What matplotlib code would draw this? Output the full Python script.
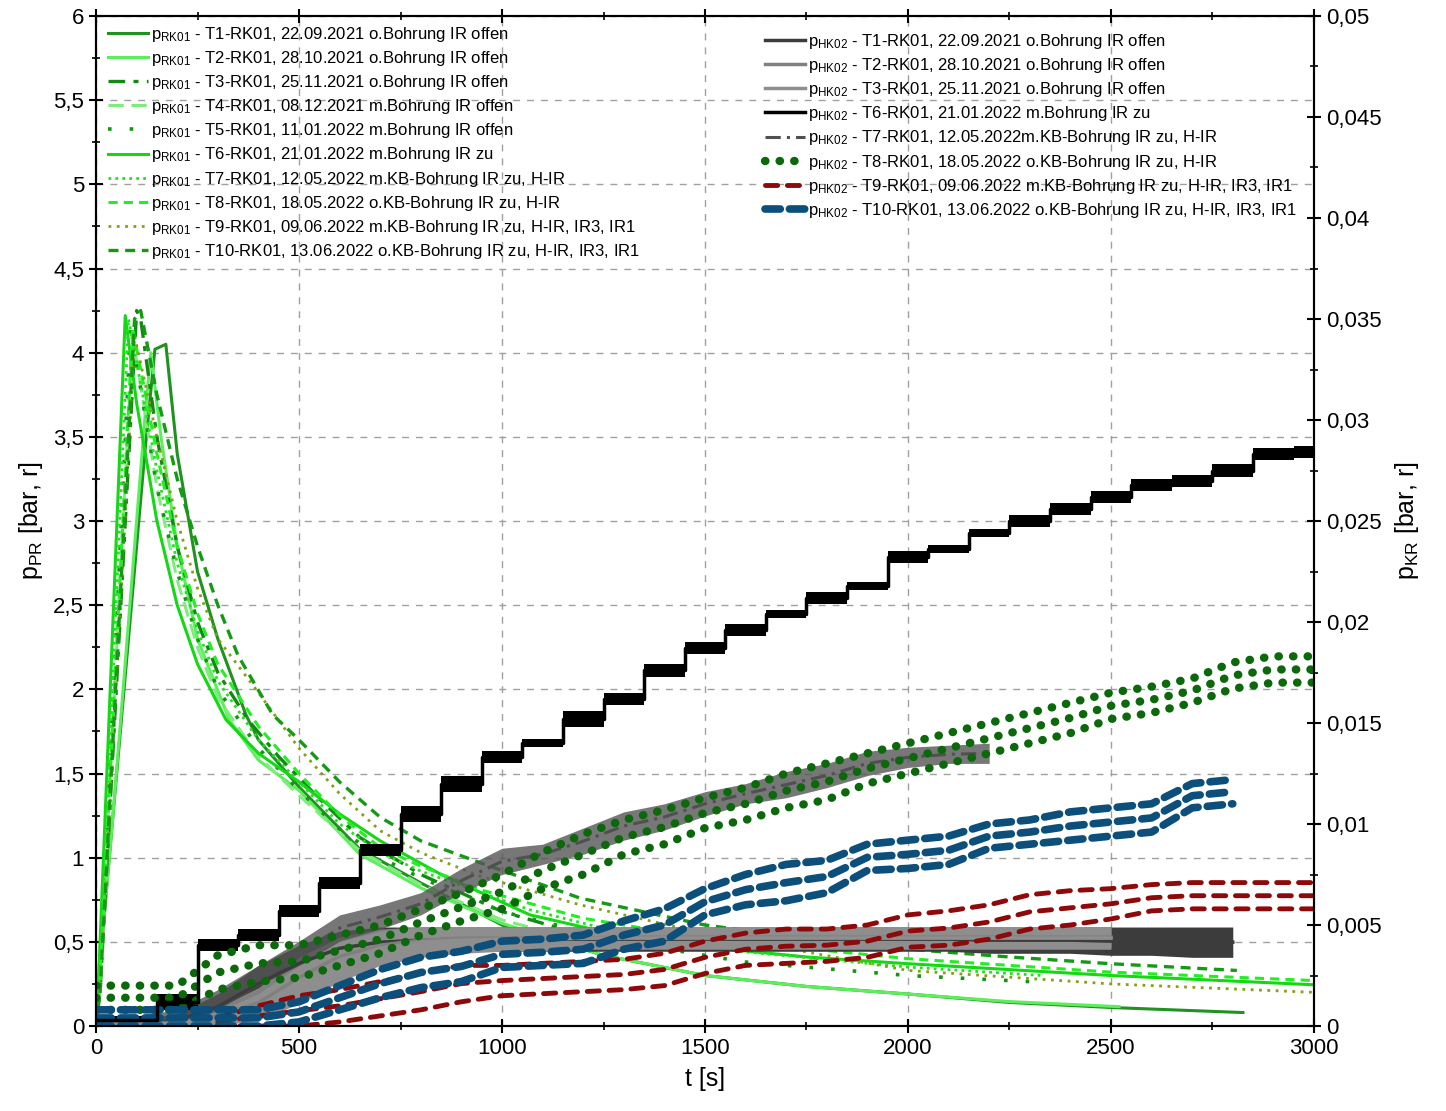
import numpy as np
import matplotlib.pyplot as plt
from matplotlib.ticker import MultipleLocator, FuncFormatter

plt.rcParams["font.family"] = ["Liberation Sans", "DejaVu Sans"]
plt.rcParams["mathtext.default"] = "regular"

nan = np.nan

# ==========================
# RK01 PRESSURE CURVES (left axis, bar)
# ==========================

t1_rk_t = [0, 40, 80, 120, 145, 172, 200, 250, 300, 369, 400, 500, 650, 800, 1000, 1250, 1500, 1750, 2000, 2250, 2500, 2825]
t1_rk_p = [0.1, 1.2, 2.3, 3.4, 4.02, 4.05, 3.4, 2.7, 2.3, 1.85, 1.7, 1.42, 1.05, 0.85, 0.6, 0.42, 0.3, 0.235, 0.19, 0.14, 0.11, 0.08]

t2_rk_t = [0, 40, 80, 120, 135, 160, 200, 250, 328, 400, 500, 650, 800, 1000, 1250, 1500, 1750, 2000, 2250, 2520]
t2_rk_p = [0.1, 1.2, 2.4, 3.6, 4.0, 3.5, 2.85, 2.3, 1.82, 1.58, 1.4, 1.02, 0.82, 0.61, 0.42, 0.3, 0.235, 0.19, 0.145, 0.115]

t3_rk_t = [0, 10, 100, 110, 150, 200, 250, 300, 374, 450, 550, 650, 800, 1000, 1300]
t3_rk_p = [0, 0.2, 4.25, 4.2, 3.5, 2.85, 2.4, 2.1, 1.82, 1.6, 1.35, 1.12, 0.9, 0.68, 0.47]

t4_rk_t = [0, 8, 90, 150, 200, 250, 300, 400, 500, 650, 800, 1000, 1300]
t4_rk_p = [0, 0.2, 4.1, 3.2, 2.65, 2.25, 1.95, 1.6, 1.37, 1.04, 0.84, 0.63, 0.44]

t5_rk_t = [0, 8, 85, 150, 200, 250, 300, 400, 500, 600, 700, 800, 1000, 1300, 1600, 2000, 2330]
t5_rk_p = [0, 0.2, 4.15, 3.2, 2.7, 2.3, 2.0, 1.65, 1.4, 1.17, 1.0, 0.88, 0.68, 0.5, 0.38, 0.3, 0.26]

t6_rk_t = [0, 5, 72, 100, 150, 200, 250, 320, 400, 500, 600, 700, 850, 1069, 1250, 1500, 1750, 2000, 2500, 3000]
t6_rk_p = [0, 0.2, 4.22, 3.7, 3.0, 2.5, 2.15, 1.82, 1.62, 1.45, 1.26, 1.1, 0.9, 0.66, 0.56, 0.47, 0.41, 0.37, 0.3, 0.245]

t7_rk_t = [0, 8, 80, 150, 200, 250, 300, 400, 500, 600, 700, 800, 1069, 1300, 1600, 2000, 2330]
t7_rk_p = [0, 0.2, 4.2, 3.3, 2.75, 2.35, 2.05, 1.7, 1.45, 1.2, 1.03, 0.92, 0.69, 0.55, 0.44, 0.35, 0.3]

t8_rk_t = [0, 8, 90, 150, 200, 250, 300, 400, 500, 600, 700, 800, 946, 1200, 1500, 2000, 2500, 3000]
t8_rk_p = [0, 0.2, 4.15, 3.4, 2.85, 2.45, 2.15, 1.78, 1.5, 1.25, 1.06, 0.95, 0.81, 0.64, 0.52, 0.4, 0.32, 0.27]

t9_rk_t = [0, 10, 95, 150, 200, 250, 300, 394, 500, 600, 700, 800, 946, 1192, 1500, 2000, 2500, 3000]
t9_rk_p = [0, 0.2, 4.1, 3.5, 3.0, 2.6, 2.3, 2.0, 1.65, 1.38, 1.16, 1.03, 0.89, 0.72, 0.55, 0.33, 0.25, 0.2]

t10_rk_t = [0, 10, 95, 110, 150, 200, 250, 300, 350, 435, 500, 600, 700, 800, 946, 1192, 1500, 1750, 1980, 2250, 2500, 2810]
t10_rk_p = [0, 0.2, 4.2, 4.25, 3.75, 3.25, 2.85, 2.5, 2.2, 1.85, 1.7, 1.45, 1.24, 1.1, 0.97, 0.76, 0.6, 0.52, 0.46, 0.41, 0.37, 0.33]

rk_labels = [
    "p$_{RK01}$ - T1-RK01, 22.09.2021 o.Bohrung IR offen",
    "p$_{RK01}$ - T2-RK01, 28.10.2021 o.Bohrung IR offen",
    "p$_{RK01}$ - T3-RK01, 25.11.2021 o.Bohrung IR offen",
    "p$_{RK01}$ - T4-RK01, 08.12.2021 m.Bohrung IR offen",
    "p$_{RK01}$ - T5-RK01, 11.01.2022 m.Bohrung IR offen",
    "p$_{RK01}$ - T6-RK01, 21.01.2022 m.Bohrung IR zu",
    "p$_{RK01}$ - T7-RK01, 12.05.2022 m.KB-Bohrung IR zu, H-IR",
    "p$_{RK01}$ - T8-RK01, 18.05.2022 o.KB-Bohrung IR zu, H-IR",
    "p$_{RK01}$ - T9-RK01, 09.06.2022 m.KB-Bohrung IR zu, H-IR, IR3, IR1",
    "p$_{RK01}$ - T10-RK01, 13.06.2022 o.KB-Bohrung IR zu, H-IR, IR3, IR1",
]

# ==========================
# HK02 PRESSURE (right axis, bar) - noise band read every 100 s
# ==========================

t_hk = np.arange(0, 3001, 100)

t6_hk_mid = [0.0003, 0.0003, 0.0012, 0.004, 0.0045, 0.0057, 0.0071, 0.0087, 0.0105, 0.012, 0.0133,
             0.014, 0.0152, 0.0162, 0.0176, 0.0187, 0.0196, 0.0204, 0.0212, 0.0218, 0.0232,
             0.0236, 0.0244, 0.025, 0.0256, 0.0262, 0.0268, 0.027, 0.0275, 0.0283, 0.0284]
t6_hk_spread = [0.0002, 0.0002, 0.0004, 0.0003, 0.0003, 0.0003, 0.0003, 0.0003, 0.0004, 0.0004, 0.0003,
                0.0002, 0.0004, 0.0003, 0.0003, 0.0003, 0.0003, 0.0002, 0.0003, 0.0002, 0.0003,
                0.0002, 0.0002, 0.0003, 0.0003, 0.0003, 0.0003, 0.0003, 0.0003, 0.0003, 0.0003]

t1_hk_lo = [0, 0, 0, 0.0003, 0.0012, 0.0022, 0.003, 0.0034, 0.0036, 0.0037, 0.0037,
            0.0037, 0.0037, 0.0037, 0.0037, 0.0037, 0.0037, 0.0037, 0.0037, 0.0037, 0.0037,
            0.0037, 0.0036, 0.0036, 0.0036, 0.0035, 0.0035, 0.0034, 0.0034, nan, nan]
t1_hk_hi = [0.0002, 0.0003, 0.0006, 0.0016, 0.003, 0.004, 0.0047, 0.0049, 0.0049, 0.0049, 0.0049,
            0.0049, 0.0049, 0.0049, 0.0049, 0.0049, 0.0049, 0.0049, 0.0049, 0.0049, 0.0049,
            0.0049, 0.0049, 0.0049, 0.0049, 0.0049, 0.0049, 0.0049, 0.0049, nan, nan]

t2_hk_lo = [0, 0, 0, 0.0001, 0.0004, 0.0014, 0.0025, 0.0032, 0.0036, 0.0038, 0.0038,
            0.0038, 0.0038, 0.0039, 0.0039, 0.0039, 0.0039, 0.0039, 0.0039, 0.0039, 0.0039,
            0.0039, 0.0039, 0.0039, 0.0039, 0.0039, nan, nan, nan, nan, nan]
t2_hk_hi = [0.0002, 0.0002, 0.0003, 0.0009, 0.0019, 0.0034, 0.0044, 0.0048, 0.0049, 0.0049, 0.0049,
            0.0049, 0.0049, 0.0049, 0.0049, 0.0049, 0.0049, 0.0049, 0.0049, 0.0049, 0.0049,
            0.0049, 0.0049, 0.0049, 0.0049, 0.0049, nan, nan, nan, nan, nan]

t3_hk_lo = [0, 0, 0, 0, 0.0003, 0.0011, 0.0022, 0.003, 0.0034, 0.0036, 0.0037,
            0.0037, 0.0038, 0.0038, 0.0038, 0.0038, 0.0038, 0.0038, 0.0038, 0.0038, 0.0038,
            0.0038, 0.0038, 0.0038, 0.0038, 0.0038, nan, nan, nan, nan, nan]
t3_hk_hi = [0.0001, 0.0002, 0.0003, 0.0007, 0.0016, 0.003, 0.0042, 0.0047, 0.0049, 0.0049, 0.0049,
            0.0049, 0.0049, 0.0049, 0.0049, 0.0049, 0.0049, 0.0049, 0.0049, 0.0049, 0.0049,
            0.0049, 0.0049, 0.0049, 0.0049, 0.0049, nan, nan, nan, nan, nan]

t7_hk_lo = [0, 0, 0, 0.0008, 0.002, 0.003, 0.0042, 0.0048, 0.0055, 0.0066, 0.0075,
            0.008, 0.0085, 0.0092, 0.0097, 0.0104, 0.011, 0.0113, 0.0118, 0.0124, 0.0128,
            0.013, 0.013, nan, nan, nan, nan, nan, nan, nan, nan]
t7_hk_hi = [0.0005, 0.0005, 0.0008, 0.0018, 0.003, 0.0042, 0.0055, 0.006, 0.0066, 0.0078, 0.0088,
            0.009, 0.0098, 0.0106, 0.011, 0.0116, 0.012, 0.0126, 0.013, 0.0136, 0.0138,
            0.0139, 0.014, nan, nan, nan, nan, nan, nan, nan, nan]

t8_hk_lo = [0.0008, 0.0008, 0.0008, 0.0018, 0.0022, 0.0024, 0.003, 0.0036, 0.0045, 0.0052, 0.0058,
            0.0068, 0.0075, 0.0085, 0.009, 0.0098, 0.0102, 0.0108, 0.0112, 0.012, 0.0125,
            0.013, 0.0135, 0.014, 0.0145, 0.0152, 0.0155, 0.016, 0.0167, 0.017, 0.017]
t8_hk_hi = [0.002, 0.002, 0.002, 0.0035, 0.004, 0.004, 0.0045, 0.005, 0.0058, 0.0066, 0.0075,
            0.0086, 0.0095, 0.0102, 0.0107, 0.0113, 0.0118, 0.0125, 0.013, 0.0135, 0.014,
            0.0145, 0.015, 0.0155, 0.016, 0.0165, 0.0168, 0.0172, 0.018, 0.0183, 0.0183]

t9_hk_lo = [nan, nan, nan, 0, 0, 0, 0.0002, 0.0005, 0.0008, 0.0012, 0.0015,
            0.0016, 0.0017, 0.0018, 0.002, 0.0026, 0.003, 0.0031, 0.0032, 0.0034, 0.0039,
            0.004, 0.0043, 0.0048, 0.005, 0.0053, 0.0057, 0.0058, 0.0058, 0.0058, 0.0058]
t9_hk_hi = [nan, nan, nan, 0.0004, 0.001, 0.0015, 0.0018, 0.0022, 0.0026, 0.003, 0.003,
            0.0031, 0.0032, 0.0033, 0.0036, 0.0042, 0.0046, 0.0048, 0.0048, 0.005, 0.0055,
            0.0057, 0.006, 0.0065, 0.0067, 0.0068, 0.007, 0.0071, 0.0071, 0.0071, 0.0071]

t10_hk_lo = [0, 0, 0, 0, 0, 0.0002, 0.0008, 0.0014, 0.0019, 0.0022, 0.0029,
             0.003, 0.0031, 0.0038, 0.0042, 0.0055, 0.006, 0.0062, 0.0066, 0.0077, 0.0078,
             0.008, 0.0088, 0.009, 0.0092, 0.0094, 0.0096, 0.0108, 0.011, nan, nan]
t10_hk_hi = [0.0008, 0.0008, 0.0008, 0.0008, 0.0008, 0.0012, 0.002, 0.0028, 0.0034, 0.0037, 0.0042,
             0.0043, 0.0045, 0.0052, 0.0058, 0.0068, 0.0075, 0.008, 0.0082, 0.009, 0.0092,
             0.0094, 0.01, 0.0102, 0.0106, 0.0108, 0.011, 0.012, 0.0122, nan, nan]

hk_labels = [
    "p$_{HK02}$ - T1-RK01, 22.09.2021 o.Bohrung IR offen",
    "p$_{HK02}$ - T2-RK01, 28.10.2021 o.Bohrung IR offen",
    "p$_{HK02}$ - T3-RK01, 25.11.2021 o.Bohrung IR offen",
    "p$_{HK02}$ - T6-RK01, 21.01.2022 m.Bohrung IR zu",
    "p$_{HK02}$ - T7-RK01, 12.05.2022m.KB-Bohrung IR zu, H-IR",
    "p$_{HK02}$ - T8-RK01, 18.05.2022 o.KB-Bohrung IR zu, H-IR",
    "p$_{HK02}$ - T9-RK01, 09.06.2022 m.KB-Bohrung IR zu, H-IR, IR3, IR1",
    "p$_{HK02}$ - T10-RK01, 13.06.2022 o.KB-Bohrung IR zu, H-IR, IR3, IR1",
]

# ==========================
# FIGURE
# ==========================

fig = plt.figure(figsize=(14.46, 11.11), dpi=100)
ax1 = fig.add_axes([0.0664, 0.0765, 0.8423, 0.9091])
ax2 = ax1.twinx()

# RK01 curves
rk_series = [
    (t1_rk_t, t1_rk_p, "#1f921f", "-", 2.2),
    (t2_rk_t, t2_rk_p, "#5cee5c", "-", 2.2),
    (t3_rk_t, t3_rk_p, "#128a12", (0, (5, 2.5, 1.5, 2.5)), 2.4),
    (t4_rk_t, t4_rk_p, "#80ec80", (0, (5, 2.5)), 2.2),
    (t5_rk_t, t5_rk_p, "#149614", (0, (1, 5)), 2.6),
    (t6_rk_t, t6_rk_p, "#14d814", "-", 2.2),
    (t7_rk_t, t7_rk_p, "#22e022", (0, (1, 1.5)), 2.0),
    (t8_rk_t, t8_rk_p, "#22ee22", (0, (3, 2)), 2.2),
    (t9_rk_t, t9_rk_p, "#84a018", (0, (1, 2)), 2.0),
    (t10_rk_t, t10_rk_p, "#159a15", (0, (3, 2)), 2.4),
]

rk_handles = []
for (tt, pp, col, ls, lw), lab in zip(rk_series, rk_labels):
    h, = ax1.plot(tt, pp, color=col, linestyle=ls, lw=lw, label=lab)
    rk_handles.append(h)

# HK02 curves
t6_hk_mid = np.array(t6_hk_mid)
t6_hk_spread = np.array(t6_hk_spread)

solid_bands = [
    (t1_hk_lo, t1_hk_hi, "#3c3c3c", hk_labels[0]),
    (t2_hk_lo, t2_hk_hi, "#808080", hk_labels[1]),
    (t3_hk_lo, t3_hk_hi, "#8e8e8e", hk_labels[2]),
]

hk_handles = []
for lo, hi, col, lab in solid_bands:
    lo = np.array(lo)
    hi = np.array(hi)
    ax2.fill_between(t_hk, lo, hi, color=col, lw=0)
    h, = ax2.plot(t_hk, (lo + hi) / 2, color=col, lw=2.5, label=lab)
    hk_handles.append(h)

# T7 dark grey dash-dot
lo = np.array(t7_hk_lo)
hi = np.array(t7_hk_hi)
ax2.fill_between(t_hk, lo, hi, color="#555555", lw=0, alpha=0.8)
h7, = ax2.plot(t_hk, (lo + hi) / 2, color="#505050", lw=2.2, linestyle=(0, (5, 2, 1, 2)),
               label=hk_labels[4])

# T9 red dashes
lo = np.array(t9_hk_lo)
hi = np.array(t9_hk_hi)
for yy in [lo, (lo + hi) / 2, hi]:
    h9, = ax2.plot(t_hk, yy, color="#8e0a0a", lw=3.5, linestyle=(0, (2.5, 2)),
                   dash_capstyle="round")
h9.set_label(hk_labels[6])

# T8 green dots
lo = np.array(t8_hk_lo)
hi = np.array(t8_hk_hi)
for yy in [lo, (lo + hi) / 2, hi]:
    h8, = ax2.plot(t_hk, yy, color="#0b680b", lw=6, linestyle=(0, (0.05, 1.7)),
                   dash_capstyle="round")
h8.set_label(hk_labels[5])

# T10 blue thick dashes
lo = np.array(t10_hk_lo)
hi = np.array(t10_hk_hi)
for yy in [lo, (lo + hi) / 2, hi]:
    h10, = ax2.plot(t_hk, yy, color="#0b4f7a", lw=5.5, linestyle=(0, (2, 1.2)),
                    dash_capstyle="round")
h10.set_label(hk_labels[7])

# T6 black staircase
ax2.fill_between(t_hk, t6_hk_mid - t6_hk_spread, t6_hk_mid + t6_hk_spread,
                 step="mid", color="black", lw=0)
h6, = ax2.plot(t_hk, t6_hk_mid, color="black", lw=2.5, drawstyle="steps-mid", label=hk_labels[3])

hk_handles = hk_handles + [h6, h7, h8, h9, h10]

# ==========================
# AXES
# ==========================

ax1.set_xlim(0, 3000)
ax1.set_ylim(0, 6)
ax2.set_ylim(0, 0.05)

ax1.xaxis.set_major_locator(MultipleLocator(500))
ax1.xaxis.set_minor_locator(MultipleLocator(250))
ax1.yaxis.set_major_locator(MultipleLocator(0.5))
ax1.yaxis.set_minor_locator(MultipleLocator(0.25))
ax2.yaxis.set_major_locator(MultipleLocator(0.005))
ax2.yaxis.set_minor_locator(MultipleLocator(0.0025))

comma = FuncFormatter(lambda v, _: f"{round(v, 4):g}".replace(".", ","))
ax1.yaxis.set_major_formatter(comma)
ax2.yaxis.set_major_formatter(comma)

ax1.tick_params(axis="both", which="major", direction="inout", length=10, width=1.5,
                labelsize=16, top=True, right=False)
ax1.tick_params(axis="both", which="minor", direction="inout", length=6, width=1.2,
                top=True, right=False)
ax2.tick_params(axis="y", which="major", direction="inout", length=10, width=1.5, labelsize=16)
ax2.tick_params(axis="y", which="minor", direction="inout", length=6, width=1.2)

for ax in [ax1, ax2]:
    for sp in ax.spines.values():
        sp.set_linewidth(1.5)

ax1.grid(True, which="major", color="#a0a0a0", linestyle=(0, (5, 5)), lw=1)
ax1.set_axisbelow(True)

ax1.set_xlabel("t [s]", fontsize=18, labelpad=6)
ax1.set_ylabel("p$_{PR}$ [bar, r]", fontsize=18, labelpad=6)
ax2.set_ylabel("p$_{KR}$ [bar, r]", fontsize=18, labelpad=8)

# ==========================
# LEGENDS
# ==========================

leg1 = ax2.legend(handles=rk_handles, loc="upper left", bbox_to_anchor=(0.0, 1.003),
                  frameon=False, fontsize=12, handlelength=2.4, handletextpad=0.2,
                  labelspacing=0.31, borderaxespad=0.3)
ax2.add_artist(leg1)
ax2.legend(handles=hk_handles, loc="upper right", bbox_to_anchor=(0.996, 0.996),
           frameon=False, fontsize=12, handlelength=2.4, handletextpad=0.2,
           labelspacing=0.31, borderaxespad=0.3)

plt.savefig("out.png", dpi=100)
plt.close()
